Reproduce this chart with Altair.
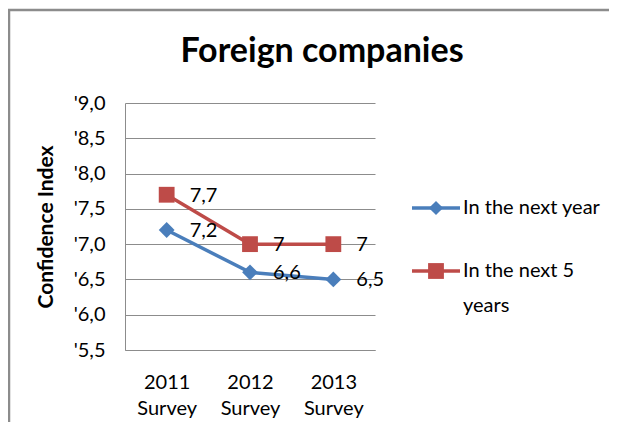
import altair as alt
import pandas as pd

surveys = ["2011 Survey", "2012 Survey", "2013 Survey"]
series_names = ["In the next year", "In the next 5 years"]
next_year = [7.2, 6.6, 6.5]
next_5_years = [7.7, 7.0, 7.0]
y_ticks = [5.5, 6.0, 6.5, 7.0, 7.5, 8.0, 8.5, 9.0]
colors = ["#4A7EBB", "#BE4B48"]
shapes = ["diamond", "square"]
chart_title = "Foreign companies"

FONT = "Lato"
GRID = "#8C8C8C"
FS = 20

rows = []
for s, vals in zip(series_names, [next_year, next_5_years]):
    for cat, v in zip(surveys, vals):
        rows.append({"survey": cat, "series": s, "value": v})
df = pd.DataFrame(rows)

x_enc = alt.X("survey:O", sort=surveys, scale=alt.Scale(type="point", padding=0.5),
              axis=alt.Axis(title=None, labelAngle=0, labelExpr="split(datum.label, ' ')",
                            labelFont=FONT, labelFontSize=FS, labelColor="#000",
                            labelPadding=22, labelLineHeight=26, ticks=False,
                            domainColor=GRID, domainWidth=1, grid=False))
y_enc = alt.Y("value:Q", scale=alt.Scale(domain=[5.5, 9.0], nice=False, zero=False),
              axis=alt.Axis(title="Confidence Index", values=y_ticks, tickCount=8,
                            labelExpr="\"'\" + replace(format(datum.value, '.1f'), '.', ',')",
                            labelFont=FONT, labelFontSize=FS, labelColor="#000",
                            labelOverlap=False, labelFlush=False,
                            labelPadding=20, ticks=False, domainColor=GRID,
                            gridColor=GRID, gridWidth=1, grid=True,
                            titleFont=FONT, titleFontSize=21, titleFontWeight="bold",
                            titleColor="#000", titlePadding=17))
color_enc = alt.Color("series:N", scale=alt.Scale(domain=series_names, range=colors), legend=None)
shape_enc = alt.Shape("series:N", scale=alt.Scale(domain=series_names, range=shapes), legend=None)

base = alt.Chart(df)
lines = base.mark_line(strokeWidth=3.5).encode(x=x_enc, y=y_enc, color=color_enc, detail="series:N")
points = base.mark_point(filled=True, opacity=1, size=250).encode(
    x=x_enc, y=y_enc, color=color_enc, shape=shape_enc)
labels = base.transform_calculate(
    lab="replace(toString(datum.value), '.', ',')"
).mark_text(align="left", baseline="middle", dx=23, dy=1, font=FONT, fontSize=FS, color="#000").encode(
    x=x_enc, y=y_enc, text="lab:N")

# legend (custom, to keep line+marker and wrapped label)
leg_df = pd.DataFrame({"series": series_names,
                       "label": ["In the next year", "In the next 5\nyears"]})
leg = alt.Chart(leg_df)
leg_layers = []
for name, ly, sz in [("In the next year", 105, 200), ("In the next 5 years", 168, 250)]:
    flt = f"datum.series == '{name}'"
    leg_layers.append(leg.mark_rule(strokeWidth=3.5).encode(
        x=alt.value(287), x2=alt.value(335), y=alt.value(ly), color=color_enc).transform_filter(flt))
    leg_layers.append(leg.mark_point(filled=True, opacity=1, size=sz).encode(
        x=alt.value(311), y=alt.value(ly), color=color_enc, shape=shape_enc).transform_filter(flt))
    leg_layers.append(leg.mark_text(align="left", baseline="middle", font=FONT, fontSize=FS,
                                    color="#000", lineBreak="\n", lineHeight=35).encode(
        x=alt.value(338), y=alt.value(ly), text="label:N").transform_filter(flt))

title_mark = alt.Chart(pd.DataFrame({"t": [chart_title]})).mark_text(
    align="center", baseline="middle", font=FONT, fontSize=34, fontWeight="bold", color="#000"
).encode(x=alt.value(197), y=alt.value(-51), text="t:N")

frame_top = alt.Chart(pd.DataFrame({"a": [0]})).mark_rule(color=GRID, strokeWidth=2.5, clip=False).encode(
    x=alt.value(-117), x2=alt.value(490), y=alt.value(-93))
frame_left = alt.Chart(pd.DataFrame({"a": [0]})).mark_rule(color=GRID, strokeWidth=2.5, clip=False).encode(
    x=alt.value(-116), y=alt.value(-94), y2=alt.value(330))

chart = alt.layer(frame_top, frame_left, title_mark, lines, points, labels, *leg_layers).properties(
    width=250, height=247,
    autosize=alt.AutoSizeParams(type="none"),
    padding={"left": 117, "top": 95, "right": 234, "bottom": 72},
).configure_view(stroke=None)

chart.save("out.html", embed_options={"renderer": "svg", "actions": False})
